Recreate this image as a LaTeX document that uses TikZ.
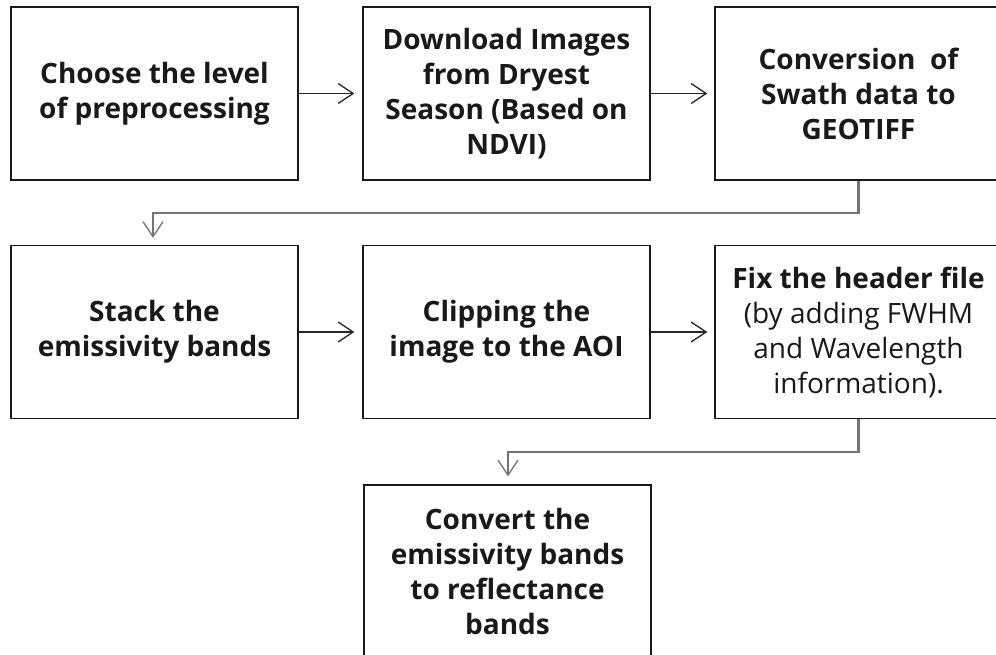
\documentclass[tikz,border=0pt]{standalone}
\usepackage{fontspec}
\setmainfont{Open Sans}
\usetikzlibrary{arrows.meta}
\tikzset{
  stepbox/.style={draw=black!90, line width=1.4pt, minimum width=287pt, minimum height=173pt,
    inner sep=0pt, align=center, font=\fontsize{28}{35}\selectfont\bfseries, text=black!90},
  flow/.style={draw=black!85, line width=1.3pt, -{Straight Barb[length=15pt,width=20pt,line width=1.3pt]}},
  link/.style={draw=black!55, line width=2.2pt, -{Straight Barb[length=15pt,width=20pt,line width=1.3pt]}}
}
\newcommand\plainline[1]{{\mdseries #1}}
\begin{document}
\begin{tikzpicture}[x=1pt,y=-1pt]
  \clip (0,0) rectangle (996,654);
  \fill[white] (0,0) rectangle (996,654);

  % first row
  \node[stepbox] (choose) at (154.5,93.5) {Choose the level\\of preprocessing};
  \node[stepbox] (download) at (506.5,93.5) {Download Images\\from Dryest\\Season (Based on\\NDVI)};
  \node[stepbox] (convert) at (858.5,93.5) {Conversion\ \ of\\Swath data to\\GEOTIFF};

  % second row
  \node[stepbox] (stack) at (154.5,332) {Stack the\\emissivity bands};
  \node[stepbox] (clip) at (506.5,332) {Clipping the\\image to the AOI};
  \node[stepbox] (header) at (858.5,332) {Fix the header file\\
    \plainline{(by adding FWHM}\\\plainline{and Wavelength}\\\plainline{information).}};

  % last step
  \node[stepbox] (reflect) at (507.5,571.5) {Convert the\\emissivity bands\\to reflectance\\bands};

  % connectors
  \draw[flow, shorten >=8pt] (choose.east) -- (download.west);
  \draw[flow, shorten >=7pt] (download.east) -- (convert.west);
  \draw[flow, shorten >=8pt] (stack.east) -- (clip.west);
  \draw[flow, shorten >=7pt] (clip.east) -- (header.west);

  \coordinate (bendA) at (convert.south |- 0,213);
  \coordinate (bendB) at (153,213);
  \draw[link, shorten >=7pt] (convert.south) -- (bendA) -- (bendB) -- (bendB |- stack.north);

  \coordinate (bendC) at (header.south |- 0,452);
  \coordinate (bendD) at (508,452);
  \draw[link, shorten >=8pt] (header.south) -- (bendC) -- (bendD) -- (bendD |- reflect.north);
\end{tikzpicture}
\end{document}
